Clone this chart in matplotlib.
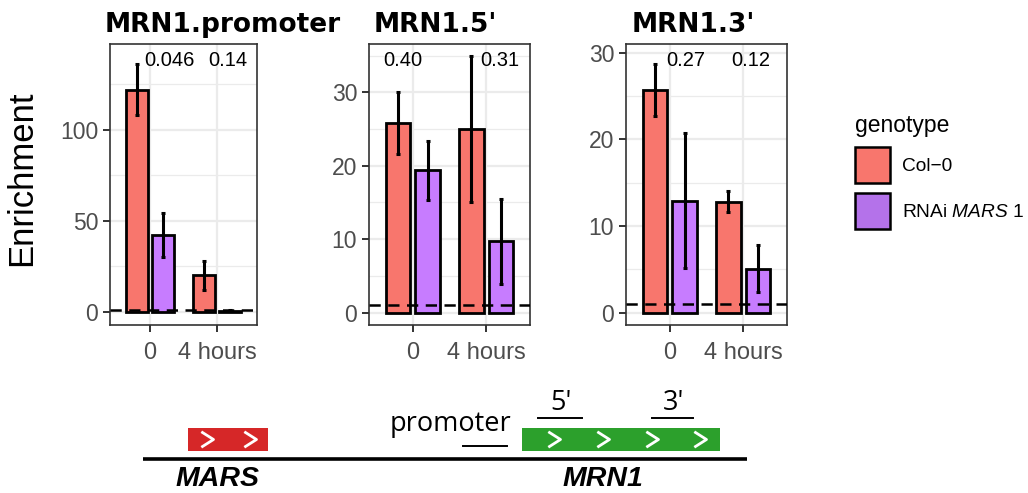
import matplotlib.pyplot as plt
from matplotlib.patches import Patch, Rectangle
from matplotlib.transforms import blended_transform_factory
import numpy as np

plt.rcParams['font.family'] = ['Liberation Sans', 'DejaVu Sans']
plt.rcParams['mathtext.fontset'] = 'custom'
plt.rcParams['mathtext.rm'] = 'Liberation Sans'
plt.rcParams['mathtext.it'] = 'Liberation Sans:italic'

# chart data
regions = ["MRN1.promoter", "MRN1.5'", "MRN1.3'"]
timepoints = ["0", "4 hours"]
genotypes = ["Col\u22120", "RNAi $\\mathit{MARS}$ 1"]
col0_mean = [[122, 20], [25.8, 25.0], [25.7, 12.8]]
col0_err = [[14, 8], [4.2, 9.9], [3.0, 1.2]]
rnai_mean = [[42, 0.6], [19.4, 9.7], [12.95, 5.1]]
rnai_err = [[12, 0.3], [4.0, 5.8], [7.8, 2.7]]
pvalues = [["0.046", "0.14"], ["0.40", "0.31"], ["0.27", "0.12"]]
baseline = 1

# gene diagram (schematic, pixel units)
genes = ["MARS", "MRN1"]
gene_start = [188, 522]
gene_end = [268, 720]
gene_color = ["#D62728", "#2CA02C"]
gene_chevrons = [[208, 251], [555, 604, 653, 701]]
amplicons = ["promoter", "5'", "3'"]
amp_start = [463, 538, 652]
amp_end = [507, 582, 693]

# layout
W, H = 1028, 493
col_bar, col_rnai, col_rnai_key = "#F8766D", "#C77CFF", "#B472EA"
boxes = [(110, 257), (369, 530), (626, 787)]
top, bottom = 44, 325
ylims = [(-7.3, 147), (-1.7, 36.6), (-1.4, 31)]
yticks = [[0, 50, 100], [0, 10, 20, 30], [0, 10, 20, 30]]
yminor = [[25, 75, 125], [5, 15, 25, 35], [5, 15, 25]]
pval_x = [[0.29, 1.16], [-0.14, 1.19], [0.21, 1.11]]
title_x = [105, 374, 632]

fig = plt.figure(figsize=(W / 100, H / 100), dpi=100)

for i, reg in enumerate(regions):
    l, r = boxes[i]
    ax = fig.add_axes([l / W, 1 - bottom / H, (r - l) / W, (bottom - top) / H])
    x = np.arange(len(timepoints))
    ax.bar(x - 0.2, col0_mean[i], 0.33, color=col_bar, edgecolor='black', lw=2.0, zorder=2)
    ax.bar(x + 0.2, rnai_mean[i], 0.33, color=col_rnai, edgecolor='black', lw=2.0, zorder=2)
    ax.errorbar(x - 0.2, col0_mean[i], yerr=col0_err[i], fmt='none', ecolor='black',
                elinewidth=2.2, capsize=1.6, capthick=2.2, zorder=3)
    ax.errorbar(x + 0.2, rnai_mean[i], yerr=rnai_err[i], fmt='none', ecolor='black',
                elinewidth=2.2, capsize=1.6, capthick=2.2, zorder=3)
    ax.axhline(baseline, color='black', ls=(0, (4.5, 3)), lw=1.8, zorder=4)

    ax.set_xlim(-0.6, 1.6)
    ax.set_ylim(ylims[i])
    ax.set_xticks(x, timepoints)
    ax.set_yticks(yticks[i])
    ax.set_yticks(yminor[i], minor=True)
    ax.tick_params(which='minor', length=0)
    ax.tick_params(which='major', length=5, width=1.4, color='#333333',
                   labelcolor='#4D4D4D', labelsize=16.5)
    ax.tick_params(axis='x', pad=7, labelsize=17)
    ax.tick_params(axis='y', pad=3.5)
    ax.grid(which='major', color='#EBEBEB', lw=1.6)
    ax.grid(which='minor', axis='y', color='#EBEBEB', lw=0.9)
    ax.set_axisbelow(True)
    for s in ax.spines.values():
        s.set_color('#333333')
        s.set_linewidth(1.2)

    tr = blended_transform_factory(ax.transData, ax.transAxes)
    for j, p in enumerate(pvalues[i]):
        ax.text(pval_x[i][j], 0.94, p, transform=tr, ha='center', va='center', fontsize=14.5)

    fig.text(title_x[i] / W, 1 - 32 / H, reg, fontsize=19, fontweight='bold',
             family='DejaVu Sans', va='baseline')

fig.text(22 / W, 1 - 178 / H, 'Enrichment', rotation=90, ha='center', va='center', fontsize=25)

handles = [Patch(fc=col_bar, ec='black', lw=1.8), Patch(fc=col_rnai_key, ec='black', lw=1.8)]
leg = fig.legend(handles=handles, labels=genotypes, title='genotype', loc='upper left',
                 bbox_to_anchor=(855 / W, 1 - 114 / H), frameon=False, fontsize=13.8,
                 title_fontsize=16.5, handlelength=1.85, handleheight=2.52,
                 handletextpad=0.6, labelspacing=0.52, borderpad=0, borderaxespad=0)
leg._legend_box.align = 'left'

# gene diagram
ad = fig.add_axes([0, 0, 1, 1], zorder=-1)
ad.set_xlim(0, W)
ad.set_ylim(H, 0)
ad.axis('off')
ad.plot([143, 747], [459, 459], color='black', lw=2.6, solid_capstyle='butt')
for g, s, e, c, chev in zip(genes, gene_start, gene_end, gene_color, gene_chevrons):
    ad.add_patch(Rectangle((s, 428), e - s, 22.5, color=c, lw=0))
    for cx in chev:
        ad.plot([cx - 5.5, cx + 5.5, cx - 5.5], [432.5, 439.5, 446.5], color='white', lw=2)
    ad.text((s + e) / 2 + (-10 if g == "MARS" else -18), 479, g, ha='center', va='center',
            fontsize=20.5, fontweight='bold', fontstyle='italic')

amp_y = [446, 418, 418]
for name, s, e, y in zip(amplicons, amp_start, amp_end, amp_y):
    ad.plot([s, e], [y, y], color='black', lw=1.4)
    tx = 451 if name == "promoter" else (s + e) / 2 + 1
    ty = 431 if name == "promoter" else 410
    ad.text(tx, ty, name, ha='center', va='baseline', fontsize=19.5, family='Open Sans')

fig.savefig('out.png', dpi=100)
